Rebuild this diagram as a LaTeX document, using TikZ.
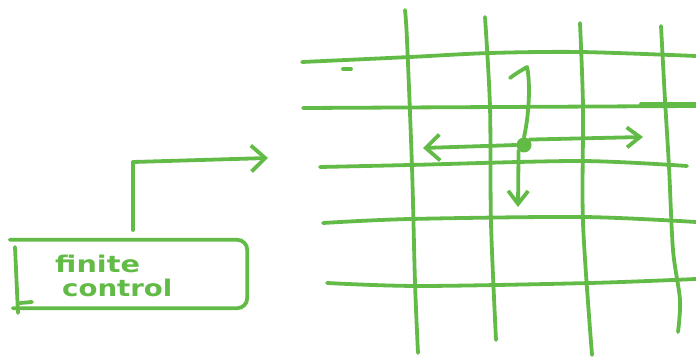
\documentclass[tikz,border=0pt]{standalone}
\usepackage{fontspec}
\newfontfamily\handfont{DejaVu Sans}
\usetikzlibrary{arrows.meta}
\definecolor{pen}{HTML}{62BB46}
\tikzset{
  ink/.style={draw=pen, line width=3.8pt, line cap=round, line join=round},
  barb/.style={-{Straight Barb[length=14pt,width=26pt,line width=3.8pt]}},
  smallbarb/.style={-{Straight Barb[length=13pt,width=20pt,line width=3.8pt]}},
  gridline/.style={ink},
  hand/.style={anchor=base west, inner sep=0pt, text=pen, font=\handfont\bfseries\fontsize{23}{23}\selectfont},
}
\begin{document}
\begin{tikzpicture}[x=1pt,y=-1pt]
\useasboundingbox (0,0) rectangle (696,358);
% finite control box
\node[draw=none, minimum width=234pt, minimum height=68pt] (fc) at (130,274) {};
\draw[ink, rounded corners=10pt] (fc.north west) ++(-3,0) -- (fc.north east) -- (fc.south east) -- (fc.south west);
\draw[ink] (15,247) -- (18,313);
\draw[ink] (20,303) -- (32,302);
\node[hand] (lbl1) at (55,272) {\scalebox{1.25}[1]{finite}};
\node[hand] (lbl2) at (62,296) {\scalebox{1.2}[1]{control}};
% connector from box to grid
\coordinate (c0) at (133,230);
\coordinate (c1) at (133,162);
\coordinate (c2) at (268,158);
\draw[ink] (c0) -- (c1);
\draw[ink, barb] (c1) -- (c2);
% grid: horizontal lines
\draw[gridline] plot[smooth] coordinates {(302,62) (410,57) (490,53) (580,52) (696,56)};
\draw[gridline] (343,69) -- (351,69);
\draw[gridline] plot[smooth] coordinates {(303,108) (500,107) (696,106)};
\draw[gridline] (641,104) -- (696,104);
\draw[gridline] plot[smooth] coordinates {(320,167) (410,165) (580,161) (687,166)};
\draw[gridline] plot[smooth] coordinates {(323,223) (410,219) (583,217) (696,222)};
\draw[gridline] plot[smooth] coordinates {(327,283) (420,286) (590,283) (696,279)};
% grid: vertical lines
\draw[gridline] plot[smooth] coordinates {(405,10) (407,40) (412,167) (415,283) (418,353)};
\draw[gridline] plot[smooth] coordinates {(485,17) (490,107) (491,223) (496,340)};
\draw[gridline] plot[smooth] coordinates {(580,23) (583,107) (583,223) (592,355)};
\draw[gridline] plot[smooth] coordinates {(661,26) (665,100) (669,167) (673,250) (680,300) (678,332)};
% head with moves
\node[circle, fill=pen, minimum size=15pt, inner sep=0pt] (head) at (524,145) {};
\coordinate (hl) at (423,148);
\coordinate (hr) at (643,137);
\coordinate (hd) at (518,207);
\draw[ink, barb] (head.west) -- (hl);
\draw[ink, smallbarb] (head.north east) -- (hr);
\draw[ink, smallbarb] (head.south west) -- (hd);
\draw[ink] (head.north) .. controls (530,110) and (530,80) .. (527,67) .. controls (522,70) and (515,74) .. (510,78);
\end{tikzpicture}
\end{document}
